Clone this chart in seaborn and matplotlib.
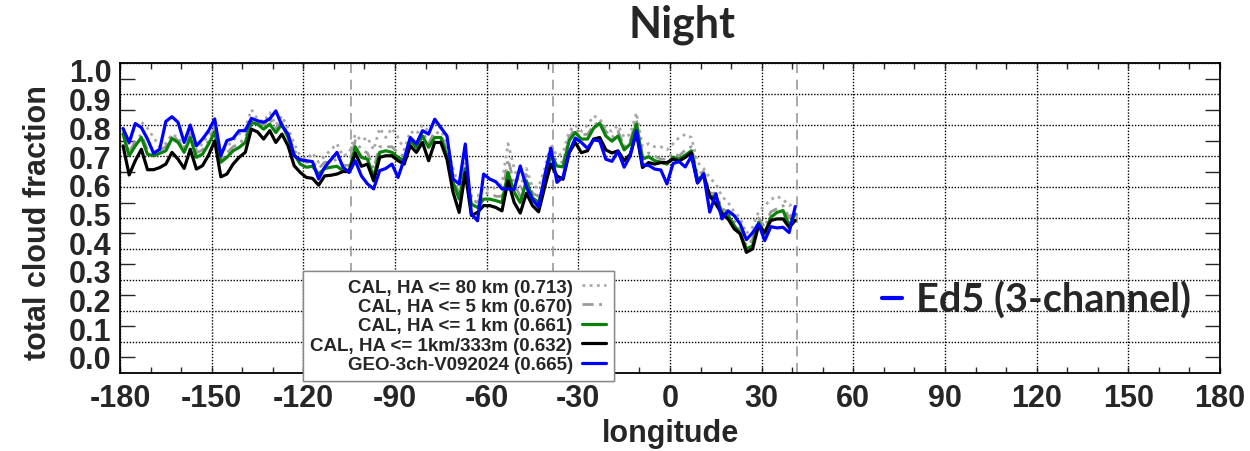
import numpy as np
import pandas as pd
import matplotlib
matplotlib.use("Agg")
import matplotlib.pyplot as plt
import seaborn as sns
from matplotlib.lines import Line2D
from matplotlib.ticker import MultipleLocator, FormatStrFormatter, FixedLocator

# 2-degree longitude bins, -179 .. 41
lon = np.arange(-179, 42, 2)

cal_80km = [
    0.79, 0.74, 0.80, 0.81, 0.79, 0.76, 0.73, 0.74, 0.77, 0.76, 0.73, 0.78, 0.72, 0.74, 0.77, 0.80, 0.71, 0.73, 0.75, 0.77, 0.79, 0.85,
    0.82, 0.81, 0.84, 0.80, 0.83, 0.79, 0.74, 0.70, 0.69, 0.71, 0.68, 0.70, 0.72, 0.74, 0.70, 0.71, 0.77, 0.75, 0.76, 0.72, 0.79, 0.76,
    0.79, 0.76, 0.72, 0.78, 0.77, 0.80, 0.78, 0.81, 0.79, 0.73, 0.66, 0.60, 0.68, 0.57, 0.57, 0.60, 0.59, 0.60, 0.61, 0.74, 0.66, 0.60,
    0.66, 0.60, 0.60, 0.66, 0.74, 0.70, 0.71, 0.78, 0.80, 0.78, 0.80, 0.83, 0.82, 0.79, 0.78, 0.80, 0.76, 0.77, 0.84, 0.73,
    0.74, 0.73, 0.73, 0.72, 0.74, 0.76, 0.77, 0.76, 0.68, 0.66, 0.63, 0.61, 0.57, 0.55, 0.52, 0.50, 0.45, 0.47, 0.52, 0.54,
    0.56, 0.57, 0.56, 0.54, 0.55,
]
cal_5km = [
    0.78, 0.71, 0.75, 0.77, 0.72, 0.71, 0.72, 0.73, 0.77, 0.75, 0.72, 0.77, 0.71, 0.72, 0.75, 0.79, 0.69, 0.71, 0.73, 0.74, 0.76, 0.82,
    0.81, 0.80, 0.82, 0.79, 0.81, 0.77, 0.72, 0.69, 0.68, 0.68, 0.66, 0.68, 0.68, 0.69, 0.67, 0.67, 0.75, 0.72, 0.71, 0.66, 0.73, 0.73,
    0.73, 0.71, 0.70, 0.76, 0.74, 0.78, 0.74, 0.78, 0.77, 0.72, 0.63, 0.58, 0.67, 0.56, 0.55, 0.58, 0.58, 0.57, 0.57, 0.69, 0.61, 0.57,
    0.64, 0.58, 0.57, 0.64, 0.72, 0.68, 0.68, 0.76, 0.79, 0.77, 0.77, 0.80, 0.81, 0.78, 0.76, 0.78, 0.73, 0.75, 0.82, 0.70,
    0.71, 0.70, 0.69, 0.69, 0.71, 0.70, 0.72, 0.73, 0.64, 0.65, 0.58, 0.58, 0.53, 0.52, 0.49, 0.46, 0.41, 0.43, 0.50, 0.47,
    0.52, 0.53, 0.54, 0.50, 0.53,
]
cal_1km = [
    0.771, 0.701, 0.733, 0.760, 0.706, 0.701, 0.709, 0.717, 0.757, 0.744, 0.712, 0.760, 0.696, 0.706, 0.739, 0.778, 0.680, 0.696, 0.717, 0.728, 0.744, 0.809,
    0.803, 0.787, 0.803, 0.776, 0.803, 0.760, 0.706, 0.674, 0.664, 0.667, 0.642, 0.660, 0.664, 0.667, 0.653, 0.653, 0.730, 0.696, 0.690, 0.631, 0.712, 0.717,
    0.712, 0.696, 0.685, 0.749, 0.728, 0.765, 0.728, 0.760, 0.760, 0.701, 0.615, 0.561, 0.658, 0.545, 0.534, 0.561, 0.561, 0.556, 0.550, 0.647, 0.583, 0.550,
    0.620, 0.565, 0.550, 0.620, 0.706, 0.668, 0.665, 0.750, 0.776, 0.755, 0.755, 0.790, 0.806, 0.765, 0.748, 0.765, 0.720, 0.739, 0.803, 0.690,
    0.698, 0.685, 0.680, 0.674, 0.696, 0.690, 0.703, 0.717, 0.625, 0.636, 0.566, 0.572, 0.518, 0.508, 0.476, 0.449, 0.400, 0.410, 0.486, 0.449,
    0.502, 0.518, 0.524, 0.476, 0.513,
]
cal_333m = [
    0.733, 0.639, 0.685, 0.722, 0.656, 0.656, 0.663, 0.674, 0.712, 0.690, 0.660, 0.722, 0.658, 0.669, 0.703, 0.749, 0.633, 0.642, 0.674, 0.696, 0.712, 0.787,
    0.778, 0.755, 0.782, 0.744, 0.771, 0.733, 0.669, 0.647, 0.631, 0.628, 0.606, 0.636, 0.638, 0.642, 0.650, 0.650, 0.710, 0.667, 0.674, 0.620, 0.696, 0.701,
    0.701, 0.685, 0.674, 0.733, 0.712, 0.744, 0.685, 0.744, 0.744, 0.690, 0.583, 0.518, 0.647, 0.508, 0.518, 0.540, 0.540, 0.534, 0.523, 0.620, 0.550, 0.516,
    0.580, 0.540, 0.520, 0.600, 0.674, 0.636, 0.625, 0.711, 0.744, 0.711, 0.717, 0.755, 0.760, 0.720, 0.710, 0.717, 0.685, 0.706, 0.776, 0.663,
    0.679, 0.674, 0.679, 0.679, 0.690, 0.684, 0.696, 0.711, 0.613, 0.640, 0.572, 0.545, 0.513, 0.497, 0.465, 0.449, 0.389, 0.400, 0.476, 0.454,
    0.492, 0.497, 0.497, 0.470, 0.492,
]
geo_3ch = [
    0.789, 0.744, 0.805, 0.792, 0.755, 0.709, 0.722, 0.812, 0.827, 0.809, 0.744, 0.800, 0.733, 0.755, 0.782, 0.820, 0.701, 0.750, 0.757, 0.782, 0.782, 0.822,
    0.814, 0.809, 0.820, 0.846, 0.798, 0.771, 0.701, 0.688, 0.685, 0.682, 0.626, 0.664, 0.688, 0.712, 0.664, 0.647, 0.685, 0.636, 0.610, 0.594, 0.653, 0.660,
    0.674, 0.631, 0.690, 0.760, 0.739, 0.782, 0.771, 0.819, 0.792, 0.765, 0.626, 0.610, 0.739, 0.513, 0.491, 0.642, 0.626, 0.617, 0.594, 0.594, 0.592, 0.668,
    0.600, 0.560, 0.535, 0.636, 0.725, 0.615, 0.633, 0.712, 0.758, 0.744, 0.725, 0.752, 0.749, 0.690, 0.683, 0.715, 0.664, 0.701, 0.782, 0.671,
    0.670, 0.658, 0.655, 0.610, 0.676, 0.682, 0.665, 0.700, 0.614, 0.643, 0.519, 0.578, 0.497, 0.523, 0.508, 0.480, 0.430, 0.452, 0.481, 0.427,
    0.472, 0.468, 0.470, 0.453, 0.537,
]

labels = [
    "CAL, HA <= 80 km (0.713)",
    "CAL, HA <= 5 km (0.670)",
    "CAL, HA <= 1 km (0.661)",
    "CAL, HA <= 1km/333m (0.632)",
    "GEO-3ch-V092024 (0.665)",
]
region_edges = [-104.3, -38.4, 41.5]

df = pd.DataFrame({
    "lon": lon,
    "cal_80km": cal_80km,
    "cal_5km": cal_5km,
    "cal_1km": cal_1km,
    "cal_333m": cal_333m,
    "geo_3ch": geo_3ch,
})

# 스타일
sns.set_style("white")
plt.rcParams["font.family"] = ["Liberation Sans", "DejaVu Sans"]
plt.rcParams["font.weight"] = "bold"
plt.rcParams["axes.unicode_minus"] = False
title_font = ["Lato", "DejaVu Sans"]

fig, ax = plt.subplots(figsize=(12.5, 4.52), dpi=100)
fig.subplots_adjust(left=0.096, right=0.976, top=0.858, bottom=0.173)

styles = [
    ("cal_80km", "#a8a8a8", (0, (1, 1.6)), 2.0),
    ("cal_5km", "#9a9a9a", (0, (4, 2, 1, 2)), 2.0),
    ("cal_1km", "#0a820a", "-", 2.3),
    ("cal_333m", "black", "-", 2.3),
    ("geo_3ch", "#0000ff", "-", 2.3),
]
handles = []
for (col, color, ls, lw), label in zip(styles, labels):
    sns.lineplot(data=df, x="lon", y=col, color=color, linestyle=ls,
                 linewidth=lw, ax=ax, legend=False, label=label)
    handles.append(ax.get_lines()[-1])

for x in region_edges:
    ax.axvline(x, color="#999999", linestyle=(0, (6, 4)), linewidth=1.2, zorder=1)

# 축
ax.set_xlim(-180, 180)
ax.set_ylim(0, 1)
ax.xaxis.set_major_locator(MultipleLocator(30))
ax.xaxis.set_minor_locator(MultipleLocator(10))
ax.yaxis.set_major_locator(MultipleLocator(0.1))
ax.yaxis.set_minor_locator(FixedLocator(np.arange(0.05, 1.0, 0.1)))
ax.grid(True, which="major", linestyle=(0, (1, 1.2)), color="black", linewidth=1.0)
ax.tick_params(axis="x", which="both", direction="in", top=True, bottom=True,
               length=4, width=1, labelsize=22, pad=7)
ax.tick_params(axis="y", which="major", length=0, labelleft=False)
ax.tick_params(axis="y", which="minor", direction="in", left=True, right=True,
               length=11, width=1)
for s in ax.spines.values():
    s.set_linewidth(1.3)
    s.set_color("black")

ax.set_xlabel("longitude", fontsize=22, fontweight="bold", labelpad=4)
ax.set_ylabel("total cloud fraction", fontsize=22, fontweight="bold")
ax.yaxis.set_label_coords(-0.061, 0.49)

# y 눈금 라벨 (원본처럼 약간 압축된 간격)
lab_ax = fig.add_axes([0.096, 1 - 358 / 452, 0.88, (358 - 71) / 452])
lab_ax.set_ylim(0, 1)
lab_ax.yaxis.set_major_locator(MultipleLocator(0.1))
lab_ax.yaxis.set_major_formatter(FormatStrFormatter("%.1f"))
lab_ax.tick_params(axis="y", length=0, labelsize=22, pad=6)
lab_ax.set_xticks([])
lab_ax.patch.set_visible(False)
for s in lab_ax.spines.values():
    s.set_visible(False)

leg = ax.legend(handles=handles, loc="upper left",
                bbox_to_anchor=(303 / 1250, 1 - 272 / 452), bbox_transform=fig.transFigure,
                markerfirst=False, frameon=True, fancybox=False, framealpha=1,
                edgecolor="#888888", fontsize=13.5, handlelength=1.3,
                handletextpad=0.5, labelspacing=0.12, borderpad=0.4, borderaxespad=0)
leg.get_frame().set_linewidth(1.0)
ax.add_artist(leg)

fig.legend(handles=[Line2D([], [], color="#0000ff", linewidth=3)], labels=["Ed5 (3-channel)"],
           loc="center left", bbox_to_anchor=(882 / 1250, 1 - 301 / 452),
           frameon=False, handlelength=0.5, handletextpad=0.35, borderaxespad=0, borderpad=0,
           prop={"family": title_font, "weight": "bold", "size": 28.5})

fig.text(0.546, 0.945, "Night", ha="center", va="center", fontsize=31,
         fontweight="bold", family=title_font)

fig.savefig("out.png", dpi=100)
